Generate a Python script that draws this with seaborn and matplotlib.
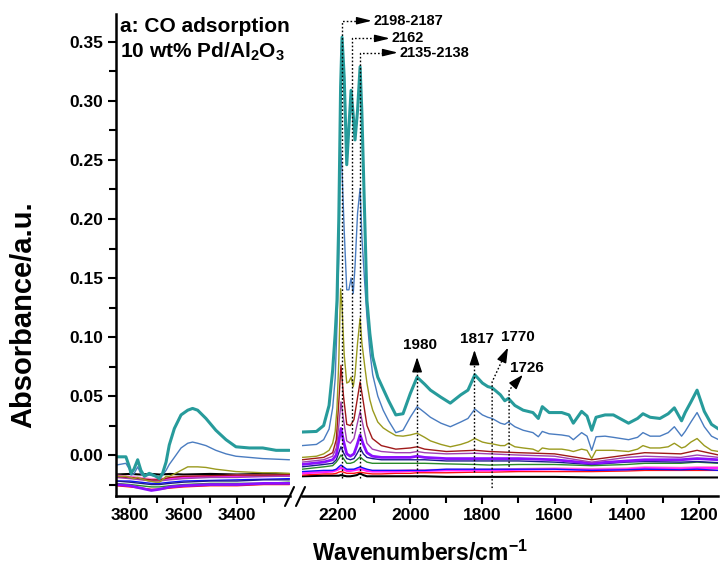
import matplotlib
matplotlib.use("Agg")
import numpy as np
import pandas as pd
import seaborn as sns
import matplotlib.pyplot as plt
from matplotlib.ticker import MultipleLocator, FormatStrFormatter
from matplotlib.lines import Line2D

sns.set_style("ticks")
plt.rcParams['font.family'] = ['Liberation Sans', 'DejaVu Sans']
plt.rcParams['font.weight'] = 'bold'
plt.rcParams['mathtext.fontset'] = 'custom'
plt.rcParams['mathtext.rm'] = 'Liberation Sans:bold'
plt.rcParams['mathtext.it'] = 'Liberation Sans:bold'
plt.rcParams['mathtext.bf'] = 'Liberation Sans:bold'
for key in ['text.color', 'axes.labelcolor', 'xtick.color', 'ytick.color', 'axes.edgecolor']:
    plt.rcParams[key] = 'black'
plt.rcParams['lines.solid_joinstyle'] = 'round'

# ---------------- data: left (OH) region ----------------
wn_L = [3852, 3815, 3802, 3796, 3785, 3771, 3759, 3746, 3728, 3703, 3690, 3678, 3665, 3653,
        3634, 3609, 3584, 3566, 3547, 3516, 3479, 3441, 3404, 3354, 3304, 3254, 3204]
teal_L = [-0.0015, -0.0015, -0.010, -0.0155, -0.012, -0.004, -0.013, -0.018, -0.0155, -0.018,
          -0.020, -0.0155, -0.006, 0.0085, 0.0225, 0.034, 0.038, 0.0395, 0.038, 0.031, 0.021,
          0.013, 0.007, 0.006, 0.006, 0.004, 0.004]
steel_L = [-0.0085, -0.007, -0.012, -0.017, -0.016, -0.010, -0.016, -0.018, -0.017, -0.018,
           -0.019, -0.017, -0.013, -0.008, -0.002, 0.006, 0.010, 0.011, 0.010, 0.008, 0.004,
           0.001, -0.001, -0.002, -0.003, -0.0035, -0.004]
olive_L = [-0.018, -0.018, -0.019, -0.019, -0.020, -0.019, -0.020, -0.021, -0.022, -0.023,
           -0.023, -0.021, -0.018, -0.018, -0.016, -0.013, -0.010, -0.010, -0.010, -0.0105,
           -0.012, -0.013, -0.014, -0.0145, -0.015, -0.015, -0.0155]

wn_Lb = [3852, 3800, 3760, 3720, 3690, 3650, 3600, 3500, 3400, 3300, 3204]
darkred_L = [-0.018, -0.019, -0.020, -0.021, -0.021, -0.019, -0.018, -0.0175, -0.017, -0.017, -0.0165]
purple_L = [-0.019, -0.020, -0.021, -0.022, -0.022, -0.021, -0.020, -0.019, -0.019, -0.018, -0.018]
violet_L = [-0.025, -0.026, -0.028, -0.030, -0.029, -0.027, -0.026, -0.025, -0.025, -0.024, -0.024]
navy_L = [-0.022, -0.023, -0.024, -0.025, -0.025, -0.024, -0.023, -0.022, -0.022, -0.021, -0.021]
green_L = [-0.024, -0.025, -0.026, -0.027, -0.027, -0.026, -0.025, -0.024, -0.024, -0.024, -0.023]
blue_L = [-0.022, -0.022, -0.023, -0.024, -0.024, -0.023, -0.022, -0.0215, -0.021, -0.0205, -0.020]
magenta_L = [-0.018, -0.019, -0.020, -0.022, -0.021, -0.020, -0.019, -0.018, -0.018, -0.018, -0.0175]
pink_L = [-0.017, -0.018, -0.019, -0.020, -0.020, -0.019, -0.018, -0.018, -0.017, -0.017, -0.017]
red_L = [-0.026, -0.027, -0.028, -0.029, -0.029, -0.028, -0.027, -0.026, -0.026, -0.025, -0.025]
black_L = [-0.0165, -0.016, -0.0165, -0.016, -0.0165, -0.016, -0.0165, -0.016, -0.0165, -0.016, -0.0165]

# ---------------- data: right (CO) region ----------------
wn_R = [2300, 2260, 2240, 2225, 2215, 2208, 2203, 2198, 2193, 2189, 2183, 2176, 2170, 2164,
        2158, 2153, 2146, 2139, 2134, 2126, 2120, 2112, 2104, 2090, 2075, 2060, 2040, 2020,
        2000, 1981, 1960, 1944, 1915, 1889, 1860, 1840, 1821, 1800, 1785, 1773, 1750, 1738,
        1728, 1710, 1687, 1660, 1645, 1634, 1615, 1580, 1560, 1548, 1525, 1510, 1497, 1485,
        1460, 1437, 1395, 1370, 1355, 1335, 1308, 1285, 1268, 1248, 1238, 1222, 1205, 1185,
        1165, 1145]
teal_R = [0.0195, 0.020, 0.025, 0.042, 0.072, 0.103, 0.131, 0.200, 0.312, 0.354,
          0.320, 0.246, 0.278, 0.309, 0.288, 0.267, 0.292, 0.329, 0.290, 0.199,
          0.131, 0.103, 0.083, 0.066, 0.056, 0.046, 0.034, 0.035, 0.052, 0.066,
          0.060, 0.055, 0.049, 0.044, 0.051, 0.055, 0.068, 0.061, 0.058, 0.057,
          0.051, 0.046, 0.048, 0.042, 0.038, 0.036, 0.031, 0.041, 0.036, 0.036,
          0.034, 0.027, 0.037, 0.033, 0.021, 0.032, 0.034, 0.034, 0.027, 0.031,
          0.035, 0.032, 0.031, 0.035, 0.040, 0.029, 0.036, 0.045, 0.055, 0.037,
          0.026, 0.022]
steel_R = [0.008, 0.009, 0.013, 0.022, 0.040, 0.065, 0.110, 0.171, 0.261, 0.240,
           0.190, 0.140, 0.140, 0.150, 0.137, 0.160, 0.205, 0.226, 0.185, 0.145,
           0.117, 0.088, 0.068, 0.050, 0.038, 0.029, 0.019, 0.021, 0.032, 0.041,
           0.036, 0.032, 0.027, 0.024, 0.028, 0.031, 0.039, 0.034, 0.032, 0.031,
           0.027, 0.026, 0.028, 0.024, 0.021, 0.019, 0.0155, 0.020, 0.018, 0.017,
           0.016, 0.013, 0.019, 0.016, 0.004, 0.0155, 0.016, 0.015, 0.013, 0.015,
           0.019, 0.016, 0.016, 0.019, 0.024, 0.016, 0.020, 0.028, 0.036, 0.024,
           0.016, 0.013]
olive_R = [-0.002, -0.001, 0.001, 0.004, 0.010, 0.020, 0.040, 0.080, 0.141, 0.125,
           0.085, 0.061, 0.062, 0.066, 0.058, 0.068, 0.095, 0.116, 0.095, 0.075,
           0.061, 0.047, 0.038, 0.028, 0.023, 0.020, 0.0165, 0.016, 0.017, 0.0185,
           0.015, 0.012, 0.009, 0.007, 0.009, 0.011, 0.014, 0.011, 0.010, 0.0095,
           0.008, 0.008, 0.010, 0.007, 0.006, 0.005, 0.003, 0.006, 0.005, 0.005,
           0.004, 0.003, 0.005, 0.004, -0.003, 0.004, 0.004, 0.004, 0.003, 0.005,
           0.008, 0.006, 0.006, 0.007, 0.010, 0.006, 0.007, 0.011, 0.014, 0.008,
           0.004, 0.003]

wn_Rb = [2300, 2240, 2215, 2205, 2198, 2192, 2185, 2176, 2166, 2156, 2148, 2139, 2130, 2120,
         2105, 2080, 2040, 2000, 1981, 1960, 1900, 1821, 1780, 1700, 1600, 1497, 1400, 1350,
         1250, 1205, 1145]
darkred_R = [-0.004, -0.002, 0.002, 0.013, 0.045, 0.076, 0.050, 0.026, 0.025, 0.030, 0.045,
             0.062, 0.045, 0.025, 0.014, 0.008, 0.005, 0.006, 0.007, 0.005, 0.003, 0.004,
             0.003, 0.002, 0.001, -0.004, 0.000, 0.002, 0.001, 0.004, 0.000]
purple_R = [-0.006, -0.004, -0.001, 0.006, 0.025, 0.045, 0.030, 0.012, 0.010, 0.014, 0.025,
            0.037, 0.024, 0.010, 0.005, 0.003, 0.002, 0.002, 0.003, 0.002, 0.001, 0.0015,
            0.001, 0.000, -0.001, -0.006, -0.002, -0.001, -0.002, 0.000, -0.002]
violet_R = [-0.008, -0.006, -0.004, 0.000, 0.012, 0.0225, 0.012, 0.001, -0.001, 0.001, 0.008,
            0.017, 0.009, 0.002, -0.001, -0.002, -0.002, -0.002, -0.001, -0.002, -0.003,
            -0.003, -0.003, -0.003, -0.004, -0.007, -0.005, -0.004, -0.004, -0.003, -0.004]
navy_R = [-0.010, -0.008, -0.007, -0.004, 0.002, 0.007, 0.002, -0.003, -0.004, -0.003, 0.001,
          0.006, 0.001, -0.002, -0.003, -0.004, -0.004, -0.004, -0.004, -0.004, -0.005,
          -0.005, -0.005, -0.005, -0.006, -0.008, -0.006, -0.0055, -0.006, -0.0055, -0.0065]
green_R = [-0.012, -0.010, -0.009, -0.006, -0.003, 0.000, -0.003, -0.007, -0.007, -0.006,
           -0.004, -0.0015, -0.004, -0.006, -0.007, -0.007, -0.007, -0.007, -0.007, -0.007,
           -0.0075, -0.008, -0.0085, -0.008, -0.008, -0.009, -0.008, -0.007, -0.007, -0.006,
           -0.007]
blue_R = [-0.014, -0.013, -0.013, -0.012, -0.010, -0.0085, -0.010, -0.012, -0.012, -0.012,
          -0.011, -0.010, -0.011, -0.012, -0.013, -0.013, -0.013, -0.013, -0.013, -0.013,
          -0.012, -0.012, -0.012, -0.012, -0.012, -0.013, -0.0125, -0.012, -0.0125, -0.012,
          -0.013]
magenta_R = [-0.0155, -0.0145, -0.014, -0.013, -0.012, -0.011, -0.012, -0.0135, -0.0135,
             -0.013, -0.0125, -0.012, -0.0125, -0.0135, -0.014, -0.014, -0.014, -0.0135,
             -0.0135, -0.0135, -0.013, -0.013, -0.013, -0.0125, -0.012, -0.0125, -0.012,
             -0.011, -0.0115, -0.011, -0.011]
pink_R = [-0.0145, -0.0135, -0.013, -0.012, -0.011, -0.010, -0.011, -0.0125, -0.0125, -0.012,
          -0.0115, -0.011, -0.0115, -0.0125, -0.013, -0.013, -0.013, -0.0125, -0.0125, -0.0125,
          -0.012, -0.012, -0.012, -0.0115, -0.011, -0.0115, -0.011, -0.010, -0.0105, -0.010,
          -0.010]
red_R = [-0.017, -0.016, -0.016, -0.0155, -0.0145, -0.014, -0.0145, -0.0155, -0.0155, -0.0155,
         -0.015, -0.0145, -0.015, -0.0155, -0.016, -0.016, -0.0155, -0.0155, -0.015, -0.015,
         -0.015, -0.0145, -0.0145, -0.014, -0.014, -0.014, -0.0135, -0.013, -0.013, -0.013,
         -0.013]
black_R = [-0.018, -0.0175, -0.0175, -0.0175, -0.0175, -0.017, -0.0175, -0.018, -0.018, -0.0175,
           -0.017, -0.0155, -0.017, -0.018, -0.018, -0.018, -0.018, -0.018, -0.018, -0.018,
           -0.0185, -0.0185, -0.0185, -0.0185, -0.0185, -0.019, -0.019, -0.019, -0.019, -0.019,
           -0.019]

# annotation data (peak positions in cm-1)
top_labels = ['2198-2187', '2162', '2135-2138']
top_peak_x = [2189, 2161, 2139]
top_bend_y = [0.368, 0.353, 0.341]
top_low_y = [-0.0195, 0.019, -0.0195]
top_head_x = [2139, 2092, 2067]
top_tip_x = [2106, 2056, 2034]

low_labels = ['1980', '1817', '1770', '1726']
low_peak_x = [1981, 1822, 1773, 1726]
low_bottom_y = [-0.0186, -0.014, -0.028, -0.010]
low_bend_y = [0.066, 0.068, 0.062, 0.055]
low_tip = [(1981, 0.083), (1822, 0.089), (1729, 0.091), (1688, 0.068)]
low_text = [(1972, 0.093), (1814, 0.098), (1701, 0.100), (1676, 0.074)]

# ---------------- figure ----------------
W, H = 722, 571
fig = plt.figure(figsize=(W / 100, H / 100), dpi=100)
bottom = 1 - 496 / H
height = (496 - 14) / H
axL = fig.add_axes([116 / W, bottom, (290 - 116) / W, height])
axR = fig.add_axes([302 / W, bottom, (718 - 302) / W, height])

styles = [
    ('black', '#000000', 1.5),
    ('red', '#ff1010', 1.0),
    ('pink', '#ff88cc', 1.0),
    ('magenta', '#ff20ff', 1.5),
    ('blue', '#1010ff', 1.0),
    ('green', '#2a8a2a', 1.0),
    ('navy', '#1c1c8c', 1.0),
    ('violet', '#8a10ff', 2.0),
    ('purple', '#a040b0', 1.0),
    ('darkred', '#a01a1a', 1.0),
]
left_lower = dict(black=black_L, red=red_L, pink=pink_L, magenta=magenta_L, blue=blue_L,
                  green=green_L, navy=navy_L, violet=violet_L, purple=purple_L, darkred=darkred_L)
right_lower = dict(black=black_R, red=red_R, pink=pink_R, magenta=magenta_R, blue=blue_R,
                   green=green_R, navy=navy_R, violet=violet_R, purple=purple_R, darkred=darkred_R)

for name, col, lw in styles:
    sns.lineplot(x=wn_Lb, y=left_lower[name], ax=axL, color=col, linewidth=lw,
                 sort=False, estimator=None)
    sns.lineplot(x=wn_Rb, y=right_lower[name], ax=axR, color=col, linewidth=lw,
                 sort=False, estimator=None)

top_styles = [('#9a9a1e', 1.0, olive_L, olive_R),
              ('#4a7cc0', 1.0, steel_L, steel_R),
              ('#279b9b', 2.2, teal_L, teal_R)]
for col, lw, yl, yr in top_styles:
    sns.lineplot(x=wn_L, y=yl, ax=axL, color=col, linewidth=lw, sort=False, estimator=None)
    sns.lineplot(x=wn_R, y=yr, ax=axR, color=col, linewidth=lw, sort=False, estimator=None)

ylim = (-0.0347, 0.3737)
axL.set_xlim(3852, 3202)
axR.set_xlim(2300, 1147)
for ax in (axL, axR):
    ax.set_ylim(*ylim)
    ax.set_xlabel('')
    ax.set_ylabel('')
    ax.spines['top'].set_visible(False)
    ax.spines['right'].set_visible(False)
    ax.spines['bottom'].set_linewidth(1.8)
    ax.spines['left'].set_linewidth(1.8)
    ax.tick_params(which='major', direction='out', length=6, width=1.5, labelsize=12.5, pad=3,
                   colors='black')
    ax.tick_params(which='minor', direction='out', length=5, width=1.5, colors='black')

axL.yaxis.set_major_locator(MultipleLocator(0.05))
axL.yaxis.set_minor_locator(MultipleLocator(0.025))
axL.yaxis.set_major_formatter(FormatStrFormatter('%.2f'))
axL.set_xticks([3800, 3600, 3400])
axL.set_xticks([3700, 3500, 3300], minor=True)

axR.spines['left'].set_visible(False)
axR.tick_params(axis='y', which='both', left=False, labelleft=False)
axR.set_xticks([2200, 2000, 1800, 1600, 1400, 1200])
axR.set_xticks([2100, 1900, 1700, 1500, 1300], minor=True)
for ax in (axL, axR):
    for lab in ax.get_xticklabels() + ax.get_yticklabels():
        lab.set_fontweight('bold')
        lab.set_fontsize(12.5)
        lab.set_color('black')

# ---------------- annotations ----------------
dot = dict(color='black', linewidth=1.0, linestyle=(0, (1.2, 1.5)), zorder=5)
for lab, px, by, ly, hx, tx in zip(top_labels, top_peak_x, top_bend_y, top_low_y,
                                   top_head_x, top_tip_x):
    axR.plot([px, px, hx], [ly, by, by], **dot)
    axR.annotate('', xy=(tx, by), xytext=(hx, by),
                 arrowprops=dict(arrowstyle='-|>,head_length=0.9,head_width=0.22',
                                 color='black', lw=1.0, shrinkA=0, shrinkB=0,
                                 mutation_scale=10), zorder=6)
    axR.text(tx - 4, by, lab, ha='left', va='center', fontsize=10.5, fontweight='bold',
             color='black')

for i, (lab, px, b0, by, tip, tp) in enumerate(zip(low_labels, low_peak_x, low_bottom_y,
                                                   low_bend_y, low_tip, low_text)):
    if i < 2:
        head_start = (px, tip[1] - 0.011)
        axR.plot([px, px], [b0, head_start[1]], **dot)
        axR.annotate('', xy=tip, xytext=head_start,
                     arrowprops=dict(arrowstyle='-|>,head_length=0.9,head_width=0.3',
                                     color='black', lw=1.0, shrinkA=0, shrinkB=0,
                                     mutation_scale=10), zorder=6)
    else:
        dx = tip[0] - px
        dy = tip[1] - by
        hs = (px + dx * 0.7, by + dy * 0.7)
        axR.plot([px, px, hs[0]], [b0, by, hs[1]], **dot)
        axR.annotate('', xy=tip, xytext=hs,
                     arrowprops=dict(arrowstyle='-|>,head_length=0.9,head_width=0.3',
                                     color='black', lw=1.0, shrinkA=0, shrinkB=0,
                                     mutation_scale=10), zorder=6)
    axR.text(tp[0], tp[1], lab, ha='center', va='center', fontsize=11, fontweight='bold',
             color='black')

# titles and axis labels
fig.text(120 / W, 1 - 27 / H, 'a: CO adsorption', ha='left', va='center',
         fontsize=15, fontweight='bold', color='black')
fig.text(120 / W, 1 - 52 / H, r'10 wt% Pd/Al$_{2}$O$_{3}$', ha='left', va='center',
         fontsize=15, fontweight='bold', color='black')
fig.text(23 / W, 1 - 315 / H, 'Absorbance/a.u.', rotation=90, ha='center', va='center',
         fontsize=21, fontweight='bold', color='black')
fig.text(420 / W, 1 - 553 / H, r'Wavenumbers/cm$^{-1}$', ha='center', va='center',
         fontsize=16.5, fontweight='bold', color='black')

# axis break marks
for x0, y0, x1, y1 in [(285, 506, 294, 487), (296, 506, 305, 487)]:
    fig.add_artist(Line2D([x0 / W, x1 / W], [1 - y0 / H, 1 - y1 / H],
                          transform=fig.transFigure, color='black', lw=1.5))

fig.savefig('out.png', dpi=100)
